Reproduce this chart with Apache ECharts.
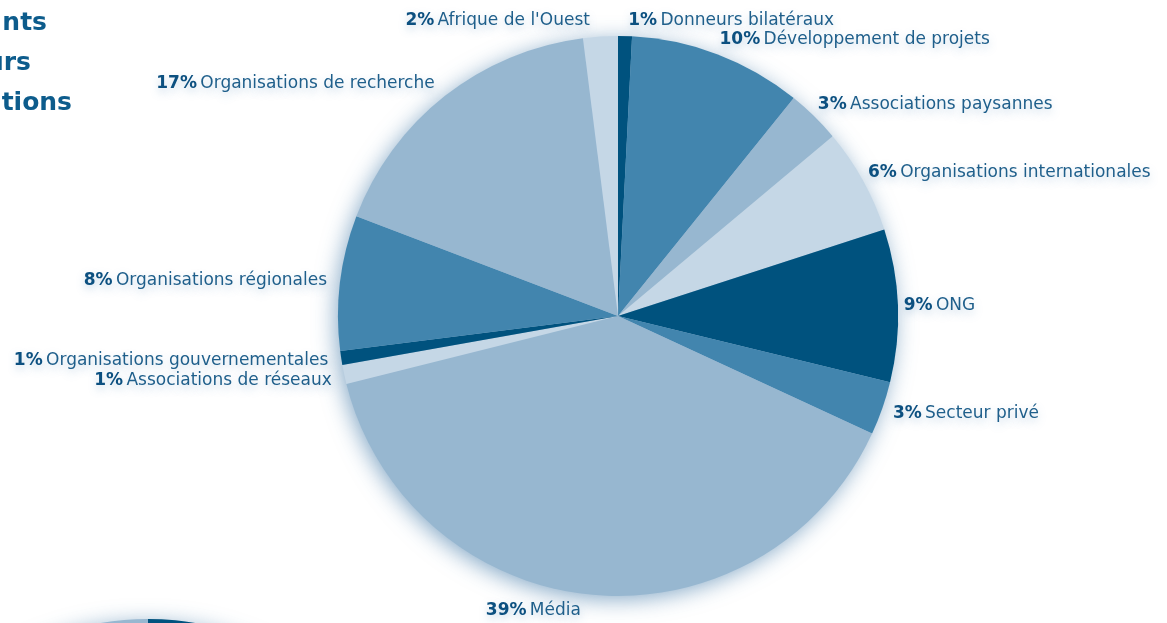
<!DOCTYPE html>
<html>
<head>
<meta charset="utf-8">
<script src="https://cdn.jsdelivr.net/npm/echarts@6/dist/echarts.min.js"></script>
<style>
  html, body { margin: 0; padding: 0; background: #fff; }
  #chart { width: 1167px; height: 623px; }
</style>
</head>
<body>
<div id="chart"></div>
<script>
// categories clockwise from 12 o'clock
var categories = [
    'Donneurs bilatéraux',
    'Développement de projets',
    'Associations paysannes',
    'Organisations internationales',
    'ONG',
    'Secteur privé',
    'Média',
    'Associations de réseaux',
    'Organisations gouvernementales',
    'Organisations régionales',
    'Organisations de recherche',
    "Afrique de l'Ouest"
];
// share in %
var shares = [0.8, 10.0, 3.1, 6.1, 8.8, 3.1, 39.2, 1.1, 0.8, 7.8, 17.2, 2.0];
// second pie, only its top is visible at the bottom-left edge
var otherNames = ['A', 'B'];
var otherShares = [45, 55];

var palette = ['#00527e', '#4285ae', '#97b7d0', '#c5d7e6'];

var myChart = echarts.init(document.getElementById('chart'), null, {renderer: 'canvas'});

var pieData = [];
for (var i = 0; i < categories.length; i++) {
    pieData.push({
        name: categories[i],
        value: shares[i],
        itemStyle: {color: palette[i % 4]}
    });
}

// a plain disc under each pie carries the soft shadow, so slices stay clean
function shadowDisc(center) {
    return {
        type: 'pie',
        center: center,
        radius: 279,
        silent: true,
        label: {show: false},
        labelLine: {show: false},
        itemStyle: {
            color: '#97b7d0',
            shadowBlur: 22,
            shadowColor: 'rgba(50, 110, 160, 0.6)',
            shadowOffsetX: -3,
            shadowOffsetY: 4
        },
        data: [{name: '', value: 1}]
    };
}

var titleFont = 'bold 25px "DejaVu Sans"';

var option = {
    backgroundColor: '#ffffff',
    animation: false,
    graphic: [
        {type: 'text', right: 1167 - 47, top: 11, style: {text: 'nts', font: titleFont, fill: '#0d5c8c'}},
        {type: 'text', right: 1167 - 31, top: 51, style: {text: 'urs', font: titleFont, fill: '#0d5c8c'}},
        {type: 'text', right: 1167 - 72, top: 91, style: {text: 'tions', font: titleFont, fill: '#0d5c8c'}}
    ],
    series: [
        shadowDisc([148, 899]),
        {
            type: 'pie',
            center: [148, 899],
            radius: 280,
            startAngle: 90,
            silent: true,
            label: {show: false},
            labelLine: {show: false},
            data: [
                {name: otherNames[0], value: otherShares[0], itemStyle: {color: palette[0]}},
                {name: otherNames[1], value: otherShares[1], itemStyle: {color: palette[2]}}
            ]
        },
        shadowDisc([618, 316]),
        {
            type: 'pie',
            center: [618, 316],
            radius: 280,
            startAngle: 90,
            clockwise: true,
            avoidLabelOverlap: true,
            label: {
                show: true,
                position: 'outside',
                formatter: function (p) {
                    return '{b|' + Math.round(p.value) + '%} {n|' + p.name + '}';
                },
                textShadowColor: 'rgba(90, 140, 185, 0.35)',
                textShadowBlur: 9,
                textShadowOffsetY: 4,
                rich: {
                    b: {fontFamily: 'DejaVu Sans', fontSize: 17, fontWeight: 'bold', color: '#0c5080'},
                    n: {fontFamily: 'DejaVu Sans', fontSize: 17, color: '#1f5f8b'}
                }
            },
            labelLine: {show: false, length: 8, length2: 2},
            // nudge labels: a bit closer horizontally, top/bottom a bit further out
            labelLayout: function (params) {
                var r = params.labelRect;
                var midY = r.y + r.height / 2;
                return {
                    dx: params.align === 'left' ? -4 : -3,
                    dy: Math.round((midY - 316) * 0.028)
                };
            },
            data: pieData
        }
    ]
};

myChart.setOption(option);
</script>
</body>
</html>
